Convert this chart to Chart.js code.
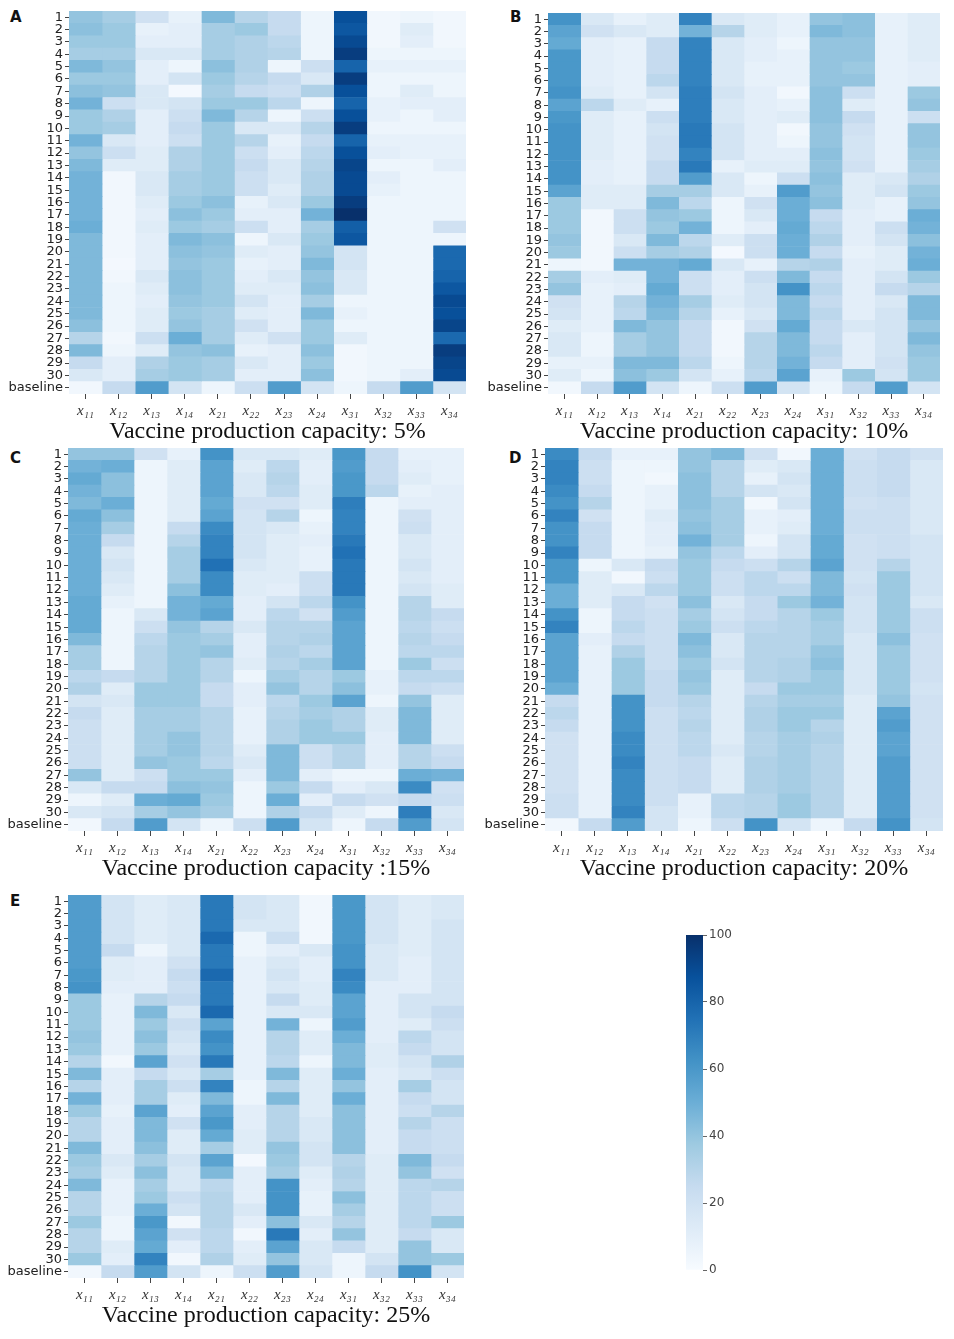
<!DOCTYPE html>
<html>
<head>
<meta charset="utf-8">
<script src="https://cdn.jsdelivr.net/npm/chart.js@4.4.0/dist/chart.umd.min.js"></script>
<style>
  body { margin: 0; background: #fff; width: 954px; height: 1339px; position: relative; overflow: hidden; }
  .panel { position: absolute; }
  .letter { position: absolute; font: bold 15px "DejaVu Sans", sans-serif; color: #111; }
</style>
</head>
<body>
<div class="letter" style="left:10px;top:8px">A</div>
<div class="letter" style="left:510px;top:8px">B</div>
<div class="letter" style="left:10px;top:449px">C</div>
<div class="letter" style="left:509px;top:449px">D</div>
<div class="letter" style="left:10px;top:892px">E</div>

<div class="panel" style="left:0px;top:0px;width:477px;height:445px"><canvas id="chartA"></canvas></div>
<div class="panel" style="left:477px;top:0px;width:477px;height:445px"><canvas id="chartB"></canvas></div>
<div class="panel" style="left:0px;top:437px;width:477px;height:445px"><canvas id="chartC"></canvas></div>
<div class="panel" style="left:477px;top:437px;width:477px;height:445px"><canvas id="chartD"></canvas></div>
<div class="panel" style="left:0px;top:884px;width:477px;height:445px"><canvas id="chartE"></canvas></div>
<div class="panel" style="left:680px;top:925px;width:70px;height:355px"><canvas id="colorbar"></canvas></div>

<script>
// column / row names
var columns = ["x₁₁", "x₁₂", "x₁₃", "x₁₄", "x₂₁", "x₂₂", "x₂₃", "x₂₄", "x₃₁", "x₃₂", "x₃₃", "x₃₄"];
var rowLabels = [];
for (var r = 1; r <= 30; r++) rowLabels.push(String(r));
rowLabels.push("baseline");

var colorbarTicks = [0, 20, 40, 60, 80, 100];

// values, rows 1..30 then baseline
var capacity5 = [
  [40,35,20,8,45,30,25,5,88,3,5,3],
  [42,38,8,10,35,38,25,5,85,3,12,3],
  [38,38,10,10,35,32,28,5,90,3,10,3],
  [35,35,15,15,35,32,30,5,95,5,5,5],
  [45,40,10,5,42,32,5,22,80,8,8,8],
  [38,38,10,18,38,30,25,15,95,5,5,5],
  [42,40,15,2,35,25,22,32,88,5,12,5],
  [48,22,15,18,38,38,28,5,80,8,10,10],
  [38,32,10,22,45,30,5,22,88,8,5,10],
  [38,35,10,25,38,15,15,30,95,5,5,5],
  [48,15,10,22,38,30,8,25,80,8,8,8],
  [40,22,12,32,38,22,10,28,88,10,8,8],
  [45,12,12,32,38,25,15,30,92,5,5,10],
  [48,3,15,35,38,22,15,32,90,10,5,5],
  [48,3,15,35,38,22,12,32,90,8,5,5],
  [48,3,12,38,42,8,15,38,95,5,5,5],
  [48,3,10,42,38,10,10,48,100,5,5,5],
  [50,3,12,38,35,22,10,35,82,5,5,20],
  [45,3,10,45,42,5,15,38,85,5,5,5],
  [45,3,10,42,40,12,10,40,18,5,5,78],
  [45,2,10,40,38,8,10,45,18,5,5,78],
  [45,3,15,42,38,10,15,40,15,5,5,80],
  [45,5,12,42,38,12,12,42,15,5,5,85],
  [45,5,10,40,38,18,10,35,5,5,5,90],
  [45,5,12,38,35,12,10,45,8,5,5,88],
  [42,5,12,40,35,20,10,38,5,5,5,92],
  [30,3,22,50,35,12,20,38,12,5,5,78],
  [45,5,12,40,42,8,10,42,3,5,5,95],
  [25,10,32,38,35,15,10,38,3,5,5,92],
  [15,10,35,38,35,10,10,42,3,5,10,90],
  [3,25,58,18,5,22,58,18,5,25,58,18]
];

var capacity10 = [
  [62,15,8,12,68,15,12,8,40,42,8,12],
  [55,20,15,12,48,30,12,8,45,42,8,12],
  [52,10,8,25,68,15,10,5,40,40,8,12],
  [60,10,8,25,68,15,10,8,40,40,8,12],
  [60,10,8,25,68,15,8,8,40,38,8,10],
  [60,10,8,28,68,15,8,8,40,40,8,10],
  [62,12,8,18,70,18,10,3,42,22,8,38],
  [55,28,12,8,70,15,10,8,42,12,8,40],
  [60,12,8,22,70,15,10,12,42,25,8,22],
  [62,12,8,18,72,18,10,3,40,20,8,40],
  [62,12,8,20,72,18,10,5,40,18,8,40],
  [62,12,8,20,68,18,10,10,42,18,8,38],
  [62,10,8,25,72,8,12,12,40,20,8,35],
  [62,10,8,25,58,15,5,22,42,12,15,32],
  [55,12,12,35,35,15,8,58,40,12,18,38],
  [38,12,12,45,28,5,20,50,42,12,8,40],
  [38,3,22,40,38,5,15,50,25,10,8,50],
  [38,3,22,38,48,5,10,52,28,10,22,48],
  [40,3,15,45,28,12,22,50,32,10,18,42],
  [38,3,22,35,32,2,22,50,25,8,12,48],
  [5,3,48,48,52,15,8,30,32,10,12,50],
  [35,10,12,48,22,10,22,45,25,10,18,38],
  [40,8,10,52,22,10,18,62,28,10,25,30],
  [20,8,30,48,35,12,18,45,25,10,15,45],
  [18,8,28,45,30,8,15,45,28,10,18,45],
  [12,8,45,40,25,3,20,52,25,15,18,40],
  [15,5,35,40,25,3,30,45,25,10,18,45],
  [15,5,35,40,25,3,30,45,28,10,18,40],
  [8,8,45,45,28,5,30,48,25,10,20,38],
  [12,5,42,38,18,8,28,55,8,38,18,38],
  [3,25,58,18,5,22,58,18,5,25,58,18]
];

var capacity15 = [
  [40,40,20,8,62,15,15,12,60,25,8,8],
  [48,50,5,12,55,12,28,10,58,25,10,8],
  [52,42,5,12,55,15,30,10,60,25,12,8],
  [48,42,5,12,55,15,28,12,60,28,8,10],
  [45,50,5,12,52,20,20,12,70,5,10,10],
  [52,42,5,12,55,18,30,5,68,5,20,10],
  [50,35,5,25,65,18,15,8,68,5,22,10],
  [50,25,5,30,68,18,12,10,72,5,15,10],
  [50,15,5,35,68,18,12,8,75,5,15,10],
  [50,18,5,35,75,15,12,8,72,5,18,10],
  [50,15,5,35,65,12,12,22,72,5,15,10],
  [50,12,5,42,65,12,10,22,72,5,18,12],
  [52,8,5,48,52,10,18,28,62,5,30,12],
  [52,5,15,48,55,10,28,20,58,5,30,25],
  [52,5,22,40,30,15,30,30,55,5,28,22],
  [45,5,28,38,35,10,30,32,55,5,30,25],
  [35,5,30,38,40,10,32,28,55,5,28,28],
  [35,5,30,38,30,12,30,35,55,5,38,22],
  [28,25,30,38,30,5,35,30,38,8,28,28],
  [32,12,38,38,25,10,40,30,42,8,25,22],
  [18,15,38,38,25,10,28,38,55,5,40,12],
  [25,12,35,35,30,8,30,35,32,12,45,12],
  [22,12,35,35,30,8,32,38,32,12,45,12],
  [22,12,35,40,30,8,32,38,38,10,45,12],
  [22,12,35,40,30,12,45,22,30,10,30,22],
  [22,12,40,38,28,15,45,22,30,10,30,25],
  [40,12,22,38,38,10,45,10,5,5,50,48],
  [15,25,25,42,40,5,38,25,10,15,65,20],
  [5,12,50,52,38,5,50,10,25,20,25,22],
  [15,18,35,40,35,5,32,25,12,5,70,15],
  [3,25,58,18,5,22,58,18,5,25,58,18]
];

var capacity20 = [
  [65,25,8,8,40,45,20,3,50,20,25,20],
  [68,22,5,5,40,30,12,15,50,22,25,15],
  [68,22,5,3,42,30,8,18,50,22,25,15],
  [65,25,5,8,42,30,18,15,50,22,25,15],
  [62,30,5,8,42,35,3,18,50,20,22,15],
  [68,20,5,12,40,35,8,10,50,22,22,15],
  [62,25,5,10,42,35,8,12,50,22,22,15],
  [62,25,5,10,48,35,5,18,52,20,22,18],
  [68,25,5,8,40,28,10,18,52,20,22,18],
  [60,5,15,25,38,25,22,30,55,20,30,18],
  [60,12,3,22,38,22,28,22,45,18,38,18],
  [50,12,15,28,38,22,28,28,45,20,38,18],
  [50,12,25,20,42,15,25,38,48,18,38,15],
  [62,5,25,22,35,18,25,30,38,18,38,22],
  [68,5,28,22,38,22,28,30,35,18,38,22],
  [55,10,25,22,45,15,30,30,35,15,42,20],
  [55,8,32,22,42,15,30,30,40,15,38,20],
  [55,8,38,22,38,18,30,32,42,15,38,20],
  [55,8,38,25,40,12,30,32,38,15,38,20],
  [50,8,38,25,38,12,25,38,38,15,38,18],
  [25,8,62,25,30,12,30,35,35,12,40,20],
  [28,8,62,22,28,12,32,38,38,12,55,20],
  [25,8,62,22,30,12,32,38,30,12,58,20],
  [20,8,65,22,28,12,30,35,32,12,55,20],
  [20,8,65,22,28,15,30,35,30,12,55,20],
  [20,8,68,22,25,12,32,35,30,12,58,20],
  [20,8,65,22,25,12,32,35,30,12,58,20],
  [20,8,65,22,25,12,32,35,30,12,58,20],
  [22,8,65,22,8,28,30,38,30,12,58,20],
  [22,8,68,18,8,28,30,38,30,12,58,20],
  [3,25,58,18,5,22,62,18,5,25,62,18]
];

var capacity25 = [
  [58,18,12,15,72,18,15,3,60,18,12,15],
  [58,18,12,15,72,18,15,3,60,18,12,15],
  [58,18,12,15,72,15,15,3,60,18,12,18],
  [58,18,12,15,78,5,22,3,60,18,12,18],
  [58,25,5,15,72,5,10,15,62,15,12,18],
  [58,12,10,20,72,8,15,10,62,15,10,18],
  [60,12,10,25,78,8,18,10,68,15,10,18],
  [62,10,10,22,72,8,15,12,65,10,10,18],
  [38,8,30,25,72,8,25,12,55,10,18,18],
  [38,8,45,15,78,8,15,15,55,10,18,25],
  [38,8,38,22,55,8,48,5,58,10,12,22],
  [40,8,42,18,65,8,30,12,50,10,28,18],
  [38,8,38,15,62,8,30,12,45,12,25,18],
  [30,3,55,20,72,8,28,5,45,12,18,32],
  [45,10,25,15,35,8,45,12,50,10,15,22],
  [30,10,35,22,68,5,30,12,40,10,35,18],
  [48,10,35,12,45,5,45,12,50,10,25,18],
  [38,8,55,10,55,10,30,12,42,10,22,30],
  [30,10,45,20,60,10,30,15,42,10,30,22],
  [30,10,45,12,52,12,30,15,42,10,25,22],
  [45,10,42,12,35,12,40,18,42,10,25,22],
  [38,15,35,18,55,2,38,18,30,12,45,25],
  [35,12,42,15,45,10,35,12,32,12,40,20],
  [45,8,35,15,28,10,62,10,30,12,28,30],
  [30,8,38,22,30,10,62,8,42,12,28,22],
  [30,8,50,18,30,15,62,8,35,12,28,22],
  [38,5,60,3,30,10,42,15,30,12,28,38],
  [30,5,55,20,28,3,72,10,40,12,25,15],
  [30,12,52,10,28,10,55,15,25,12,40,15],
  [38,10,68,3,32,12,40,15,5,18,40,38],
  [3,25,58,18,5,22,58,18,5,25,62,18]
];

// matplotlib "Blues"
var bluesStops = [[247,251,255],[222,235,247],[198,219,239],[158,202,225],[107,174,214],[66,146,198],[33,113,181],[8,81,156],[8,48,107]];

function blueColor(v) {
  var t = Math.max(0, Math.min(1, v / 100)) * (bluesStops.length - 1);
  var i = Math.min(bluesStops.length - 2, Math.floor(t));
  var f = t - i;
  var a = bluesStops[i], b = bluesStops[i + 1];
  return "rgb(" + Math.round(a[0] + (b[0] - a[0]) * f) + "," +
    Math.round(a[1] + (b[1] - a[1]) * f) + "," +
    Math.round(a[2] + (b[2] - a[2]) * f) + ")";
}

function drawHeatmap(id, values, title, yAxisWidth, padRight, padTop) {
  var datasets = columns.map(function(col, j) {
    return {
      label: col,
      data: values.map(function() { return 1; }),
      backgroundColor: values.map(function(row) { return blueColor(row[j]); }),
      borderWidth: 0,
      barPercentage: 1.0,
      categoryPercentage: 1.0
    };
  });

  new Chart(document.getElementById(id), {
    type: "bar",
    data: { labels: rowLabels, datasets: datasets },
    options: {
      indexAxis: "y",
      responsive: true,
      maintainAspectRatio: false,
      animation: false,
      layout: { padding: { top: padTop, right: padRight, bottom: 0, left: 0 } },
      plugins: {
        legend: { display: false },
        tooltip: { enabled: false },
        title: {
          display: true,
          text: title,
          position: "bottom",
          fullSize: false,
          color: "#111",
          font: { family: "'Liberation Serif', 'Times New Roman', serif", size: 24, weight: "normal", lineHeight: 1.0 },
          padding: { top: 0, bottom: 1 }
        }
      },
      scales: {
        x: {
          type: "linear",
          stacked: true,
          min: 0,
          max: columns.length,
          border: { display: false },
          grid: { drawOnChartArea: false, drawTicks: true, tickLength: 5, color: "#444" },
          afterBuildTicks: function(axis) {
            axis.ticks = columns.map(function(c, i) { return { value: i + 0.5 }; });
          },
          afterFit: function(axis) { axis.height = 26; },
          ticks: {
            autoSkip: false,
            maxRotation: 0,
            padding: 3,
            color: "#333",
            font: { family: "'Liberation Serif', 'DejaVu Serif', serif", style: "italic", size: 15 },
            callback: function(v, i) { return columns[i]; }
          }
        },
        y: {
          type: "category",
          stacked: true,
          border: { display: false },
          grid: { offset: false, drawOnChartArea: false, drawTicks: true, tickLength: 4, color: "#444" },
          afterFit: function(axis) { axis.width = yAxisWidth; },
          ticks: {
            autoSkip: false,
            padding: 2,
            color: "#222",
            font: { family: "'DejaVu Sans', sans-serif", size: 13 }
          }
        }
      }
    }
  });
}

drawHeatmap("chartA", capacity5, "Vaccine production capacity: 5%", 69, 11, 11);
drawHeatmap("chartB", capacity10, "Vaccine production capacity: 10%", 71, 14, 13);
drawHeatmap("chartC", capacity15, "Vaccine production capacity :15%", 68, 13, 11);
drawHeatmap("chartD", capacity20, "Vaccine production capacity: 20%", 68, 11, 11);
drawHeatmap("chartE", capacity25, "Vaccine production capacity: 25%", 68, 13, 11);

// colour bar
new Chart(document.getElementById("colorbar"), {
  type: "bar",
  data: {
    labels: [""],
    datasets: [{
      data: [[colorbarTicks[0], colorbarTicks[colorbarTicks.length - 1]]],
      borderWidth: 0,
      barPercentage: 1.0,
      categoryPercentage: 1.0,
      backgroundColor: function(ctx) {
        var area = ctx.chart.chartArea;
        if (!area) return "#fff";
        var g = ctx.chart.ctx.createLinearGradient(0, area.bottom, 0, area.top);
        bluesStops.forEach(function(s, i) {
          g.addColorStop(i / (bluesStops.length - 1), "rgb(" + s.join(",") + ")");
        });
        return g;
      }
    }]
  },
  options: {
    responsive: true,
    maintainAspectRatio: false,
    animation: false,
    layout: { padding: { top: 10, bottom: 10, left: 6, right: 0 } },
    plugins: { legend: { display: false }, tooltip: { enabled: false } },
    scales: {
      x: { display: false },
      y: {
        position: "right",
        min: 0,
        max: 100,
        border: { display: false },
        grid: { drawOnChartArea: false, drawTicks: true, tickLength: 4, color: "#666" },
        afterBuildTicks: function(axis) {
          axis.ticks = colorbarTicks.map(function(v) { return { value: v }; });
        },
        afterFit: function(axis) { axis.width = 47; },
        ticks: { color: "#444", padding: 2, font: { family: "'DejaVu Sans', sans-serif", size: 12 } }
      }
    }
  }
});
</script>
</body>
</html>
